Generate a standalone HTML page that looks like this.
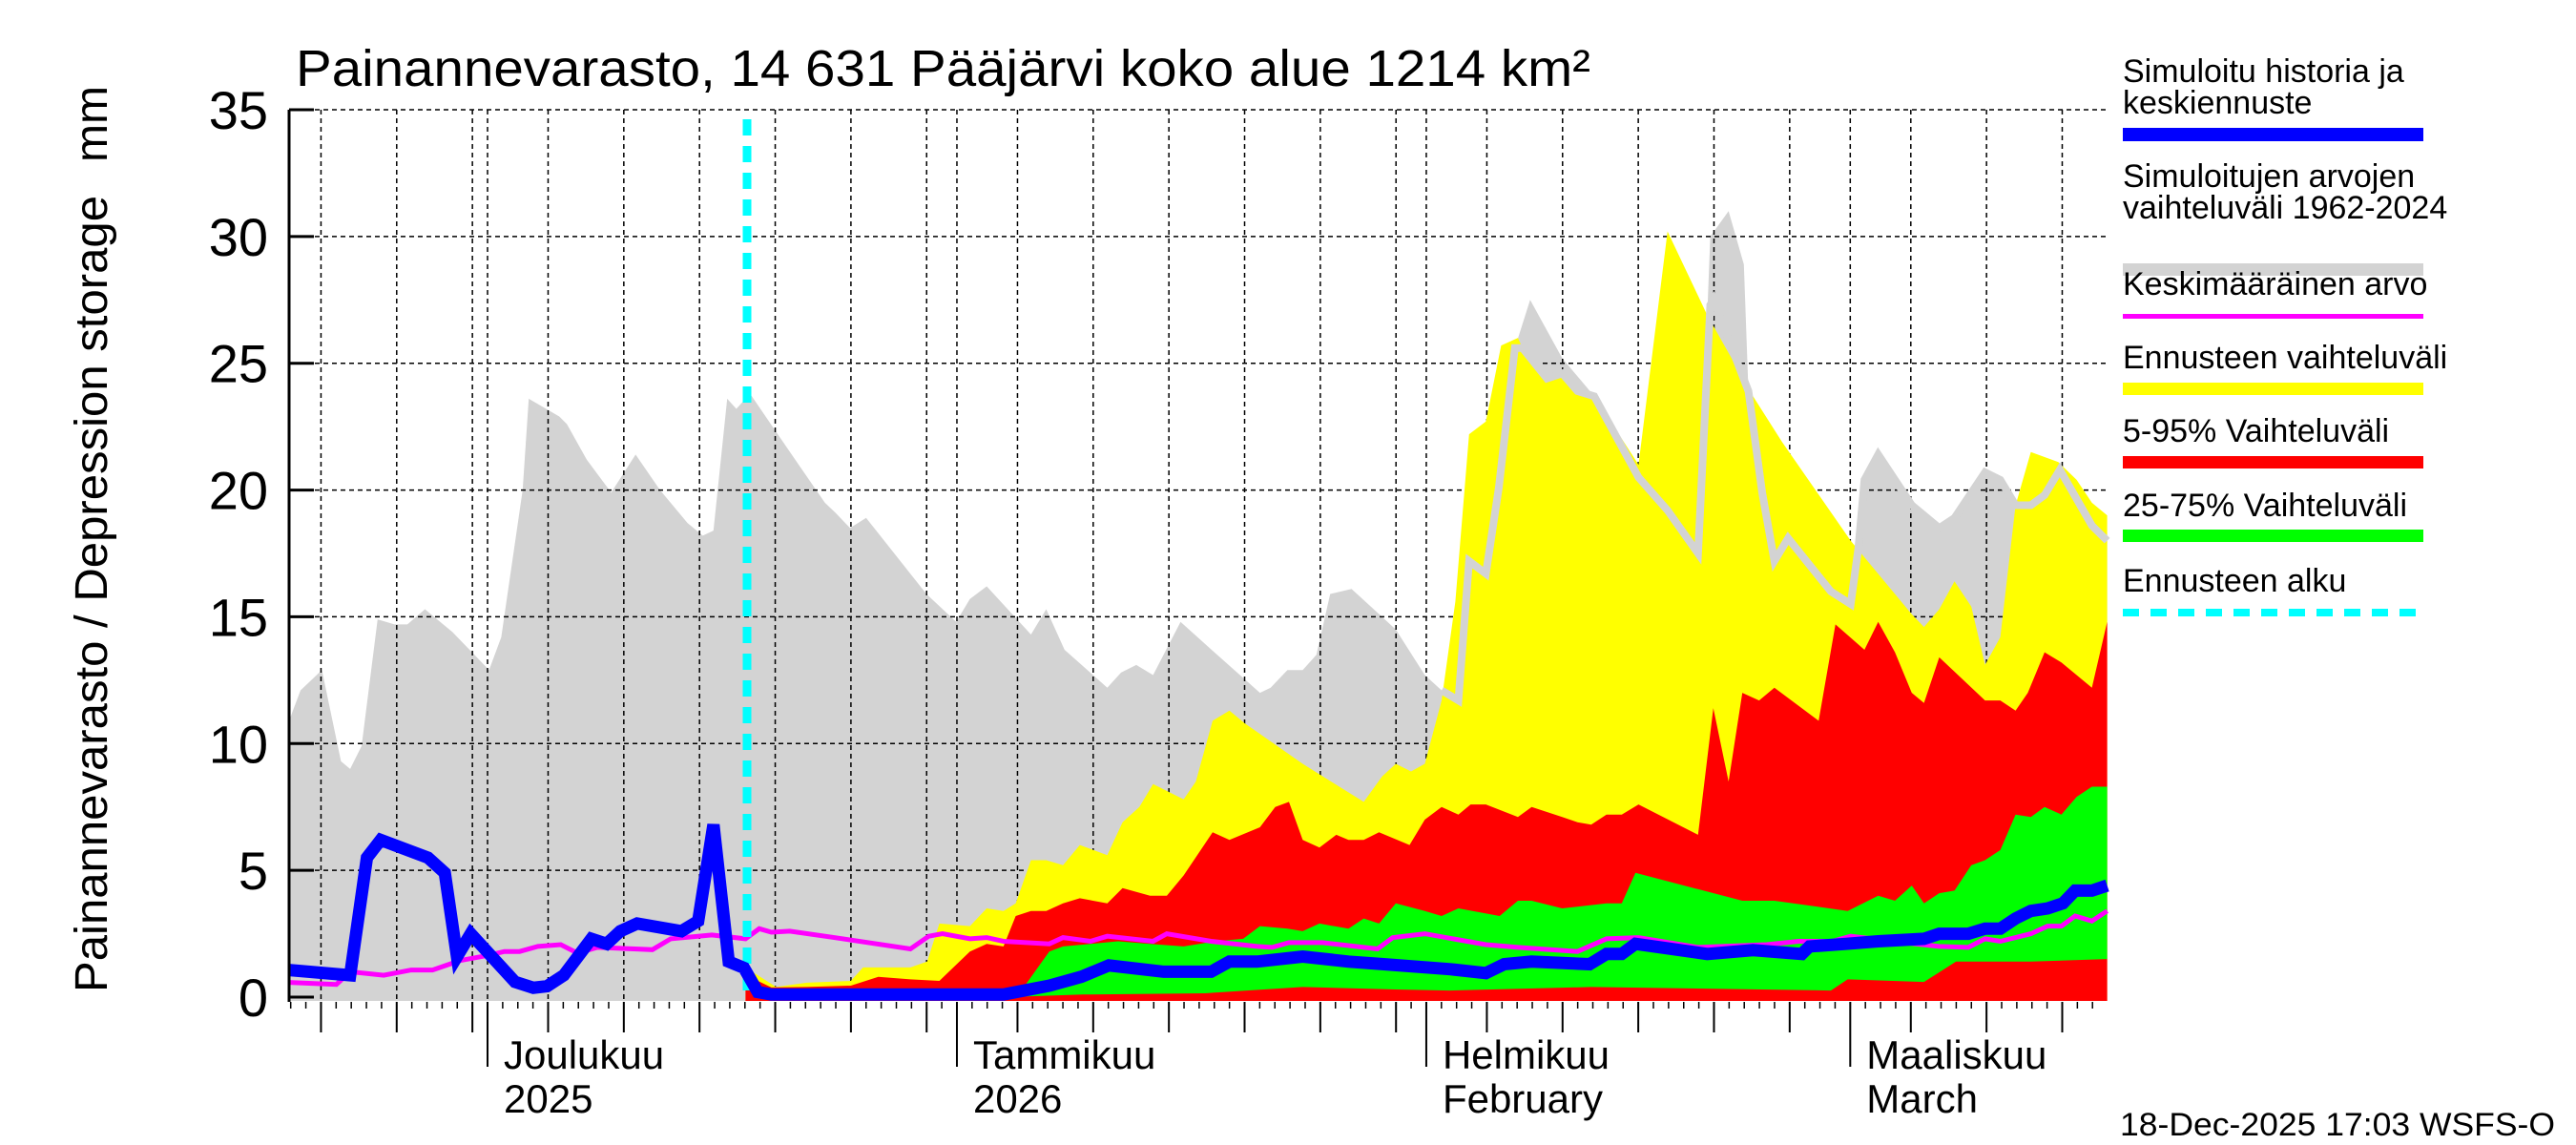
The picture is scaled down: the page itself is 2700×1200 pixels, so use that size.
<!DOCTYPE html>
<html><head><meta charset="utf-8"><style>
html,body{margin:0;padding:0;background:#fff;}
svg{display:block;font-family:"Liberation Sans",Arial,sans-serif;}
</style></head><body>
<svg id="chart" width="2700" height="1200" viewBox="0 0 2700 1200" xmlns="http://www.w3.org/2000/svg">
<rect x="0" y="0" width="2700" height="1200" fill="#fff"/>
<g id="plot"></g>
<text x="310" y="90" font-size="54" textLength="1357" lengthAdjust="spacingAndGlyphs">Painannevarasto, 14 631 Pääjärvi koko alue 1214 km²</text>
<text transform="translate(112,1040) rotate(-90)" font-size="48" textLength="835" lengthAdjust="spacingAndGlyphs">Painannevarasto / Depression storage</text>
<text transform="translate(112,130) rotate(-90)" font-size="48" text-anchor="middle">mm</text>
<g id="legend">
<text x="2225" y="86" font-size="34">Simuloitu historia ja</text>
<text x="2225" y="119" font-size="34">keskiennuste</text>
<rect x="2225" y="134" width="315" height="14" fill="#0000ff"/>
<text x="2225" y="196" font-size="34">Simuloitujen arvojen</text>
<text x="2225" y="229" font-size="34">vaihteluväli 1962-2024</text>
<rect x="2225" y="276" width="315" height="13" fill="#d3d3d3"/>
<text x="2225" y="309" font-size="34">Keskimääräinen arvo</text>
<rect x="2225" y="329" width="315" height="5" fill="#ff00ff"/>
<text x="2225" y="386" font-size="34">Ennusteen vaihteluväli</text>
<rect x="2225" y="401" width="315" height="13" fill="#ffff00"/>
<text x="2225" y="463" font-size="34">5-95% Vaihteluväli</text>
<rect x="2225" y="478" width="315" height="13" fill="#ff0000"/>
<text x="2225" y="541" font-size="34">25-75% Vaihteluväli</text>
<rect x="2225" y="555" width="315" height="13" fill="#00ff00"/>
<text x="2225" y="620" font-size="34">Ennusteen alku</text>
<line x1="2225" y1="642" x2="2540" y2="642" stroke="#00ffff" stroke-width="8" stroke-dasharray="17,12"/>
</g>
<text x="2222" y="1190" font-size="34" textLength="456" lengthAdjust="spacingAndGlyphs">18-Dec-2025 17:03 WSFS-O</text>
</svg>
<script>
// ---- data (day index d: 0 = 18 Nov 2025, 16 px per unit) ----
const yTicks = [0, 5, 10, 15, 20, 25, 30, 35];
const monthLabels = ["Joulukuu", "Tammikuu", "Helmikuu", "Maaliskuu"];
const monthLabels2 = ["2025", "2026", "February", "March"];
const monthStartDays = [13, 44, 75, 103];      // calendar days since 18 Nov
const monthLengths = [30, 31, 31, 28, 31];     // Nov, Dec, Jan, Feb, Mar
const forecastStartDay = 30;

const grayDays = [0,0.75,2.15,3.4,4,4.75,5.8,6.9,7.75,8.9,10.7,12.3,13.1,13.9,15.3,15.7,17.7,18.2,19.5,21.1,22.7,24.3,26.1,27.1,27.8,28.7,29.3,30.2,31.9,33.5,35.1,35.8,36.75,37.8,41.75,43.7,44.6,45.7,48.6,49.6,50.8,53.6,54.5,55.5,56.6,58.4,60.8,63.6,64.3,65.4,66.4,67.3,68.2,69.6,72.5,74.4,75.5,76.6,77.3,78.4,79.25,80.3,81.3,83.4,85.5,88.4,90.3,92.3,93.1,94.3,95.3,95.6,96.5,97.3,98.2,101,102.3,103,104.1,106.3,108.1,109.1,111.1,112.1,113,114.1,115,116,118.1,119.1];
const grayMax = [10.9,12.1,12.9,9.3,9.0,9.9,14.9,14.7,14.7,15.3,14.4,13.4,12.9,14.2,20,23.6,22.9,22.6,21.2,19.9,21.4,20,18.7,18.2,18.4,23.6,23.2,23.8,22.3,20.9,19.5,19.1,18.5,18.9,15.9,14.8,15.7,16.2,14.3,15.3,13.7,12.2,12.8,13.1,12.7,14.8,13.5,12.0,12.2,12.9,12.9,13.5,15.9,16.1,14.5,12.7,12.1,11.7,17.2,16.7,20.1,25.6,27.5,25.2,23.7,20.5,19.2,17.5,30,31,28.9,23.9,19.9,17.2,18.1,16,15.5,20.4,21.4,19.4,18.5,18.9,20.7,20.4,19.5,19.4,19.8,20.8,18.6,18];

const grayLineDays = [75.5,76.6,77.3,78.4,79.25,80.3,80.8,82.4,83.4,84.4,85.5,88.4,90.3,92.3,93.1,93.3,95.6,96.5,97.3,98.2,101,102.3,102.8,103.2,104.1,106.3,108.1,109.1,111.1,112.1,113.1,114.1,115,116,118.1,119.1];
const grayLineVals = [12.1,11.7,17.2,16.7,20.1,25.6,25.6,24.4,24.6,23.9,23.7,20.5,19.2,17.5,27.3,27.5,23.9,19.9,17.2,18.1,16,15.5,17.7,20.4,21.4,19.4,18.5,18.9,20.7,20.4,19.4,19.4,19.8,20.8,18.6,18];

const yellowDays = [29.9,30.5,31.9,33.9,36.8,37.6,40.7,41.8,42.6,44.6,45.7,46.8,47.6,48.6,49.6,50.7,51.8,53.6,54.6,55.7,56.6,58.6,59.4,60.5,61.6,62.6,66.4,70.4,71.6,72.5,73.5,74.4,75.5,76.4,77.3,78.4,79.4,80.5,80.8,82.4,83.4,84.4,85.5,88.4,90.3,92.9,95.9,97.8,102.3,106.3,107.1,108.1,109.1,110.2,111.1,112.1,113.1,114.1,115.9,117.1,118.1,119.1];
const yellowMax = [1.3,0.94,0.4,0.57,0.64,1.17,1.17,1.4,2.9,2.8,3.5,3.4,3.7,5.4,5.4,5.2,6.0,5.6,6.9,7.5,8.4,7.8,8.5,10.9,11.3,10.8,9.2,7.7,8.7,9.2,8.9,9.2,11.7,15.6,22.2,22.7,25.7,26,25.6,24.4,24.6,23.9,23.7,21,30.2,26.9,23.7,21.9,18,15.1,14.6,15.3,16.4,15.4,13.1,14.2,19.4,21.5,21.1,20.4,19.5,19];

const redDays = [29.9,30.5,31.6,33.9,36.8,38.6,40.7,42.6,44.6,45.7,46.8,47.6,48.6,49.6,50.7,51.8,53.6,54.6,56.4,57.5,58.6,60.5,61.6,63.6,64.6,65.5,66.4,67.5,68.6,69.4,70.4,71.4,73.4,74.4,75.5,76.6,77.4,78.4,80.5,81.4,83.4,84.4,85.3,86.3,87.3,88.4,92.3,93.3,94.3,95.2,96.3,97.3,100.2,101.3,103.2,104.1,105.2,106.3,107.1,108.1,111.1,112.1,113.1,113.9,115,116.1,117.1,118.1,119.1];
const red95 = [1.25,0.7,0.38,0.4,0.45,0.8,0.7,0.64,1.8,2.1,2.0,3.2,3.4,3.4,3.7,3.9,3.7,4.3,4.0,4.0,4.8,6.5,6.2,6.7,7.5,7.7,6.2,5.9,6.4,6.2,6.2,6.5,6.0,7.0,7.5,7.2,7.6,7.6,7.1,7.5,7.1,6.9,6.8,7.2,7.2,7.6,6.4,11.4,8.5,12.0,11.7,12.2,10.9,14.7,13.7,14.8,13.6,12.0,11.6,13.4,11.7,11.7,11.3,12.0,13.6,13.2,12.7,12.2,14.8];

const greenTopDays = [29.9,30.6,46,47.9,49.8,50.7,52.5,54.3,56.4,58.6,60.7,62.5,63.6,65.4,66.4,67.5,69.4,70.4,71.4,72.5,74.4,75.5,76.6,79.3,80.5,81.4,83.4,86.3,87.3,88.2,95.2,97.3,102.1,104.1,105.2,106.3,107.1,108.1,109.1,110.2,111.1,112.1,113.1,114.1,115,116.1,117.1,118.1,119.1];
const green75 = [1.2,0.1,0.05,0.2,1.8,2.0,2.1,2.2,2.1,2.0,2.2,2.3,2.8,2.7,2.6,2.9,2.7,3.1,2.9,3.7,3.4,3.2,3.5,3.2,3.8,3.8,3.5,3.7,3.7,4.9,3.8,3.8,3.4,4.0,3.8,4.4,3.7,4.1,4.2,5.2,5.4,5.8,7.2,7.1,7.5,7.2,7.9,8.3,8.3];
const greenBotDays = [29.9,30.6,47,52,60,66.4,72.5,76,85.3,101,102.1,107.1,109.2,114.1,119.1];
const green25 = [1.1,0.05,0,0.1,0.15,0.4,0.3,0.26,0.4,0.26,0.7,0.6,1.4,1.4,1.5];

const blueDays = [0,4,5.1,6,9.1,10.2,11,11.9,14.8,16,16.9,18,19.8,20.8,21.7,22.8,25.7,26.8,27.8,28.8,29.8,30.7,31.6,46.8,49.8,51.9,53.7,57.3,60.4,61.6,63.4,66.4,69.4,71.7,76.1,78.4,79.6,81.4,85.2,86.3,87.3,88.2,92.9,95.9,99.1,99.6,102,104.1,107.1,108.1,110,111.1,112.1,113.1,114.1,115.2,116.2,117,118.1,119.1];
const blueVals = [1.07,0.86,5.5,6.2,5.5,4.9,1.6,2.5,0.6,0.37,0.43,0.86,2.3,2.1,2.6,2.9,2.6,3.0,6.8,1.4,1.15,0.2,0.1,0.1,0.45,0.8,1.25,1.0,1.0,1.4,1.4,1.6,1.4,1.3,1.1,0.95,1.3,1.4,1.3,1.7,1.7,2.1,1.7,1.85,1.7,2.0,2.1,2.2,2.3,2.5,2.5,2.7,2.7,3.1,3.4,3.5,3.7,4.2,4.2,4.4];

const meanDays = [0,3.1,4,6.2,8,9.4,11.2,13,14.1,15.1,16.3,17.8,18.9,20.2,23.8,25,27.7,29.9,30.8,31.6,32.8,35.6,40.7,41.9,42.8,44.6,45.7,46.8,49.8,50.7,52.5,53.6,56.6,57.5,60.4,63.4,64.4,65.5,67.7,71.3,72.3,74.4,78.4,80.5,84.4,86.3,88.4,92.3,96.8,98.9,101.1,102.3,105,108.1,110,111.1,112.1,114.1,115.2,116.1,117,118.1,119.1];
const meanVals = [0.58,0.5,1.0,0.86,1.07,1.07,1.44,1.64,1.8,1.8,2.0,2.07,1.73,1.96,1.87,2.3,2.45,2.3,2.7,2.56,2.6,2.36,1.9,2.4,2.5,2.3,2.35,2.2,2.1,2.35,2.2,2.4,2.2,2.5,2.2,2.0,1.96,2.15,2.15,1.9,2.35,2.5,2.07,1.96,1.8,2.3,2.35,1.96,2.07,2.2,2.2,2.4,2.2,2.0,1.96,2.3,2.2,2.5,2.8,2.8,3.2,3.0,3.4];

// ---- scales ----
const X0 = 303, X1 = 2209, Y0 = 1045, YTOP = 115;
function xs(d) { return X0 + d * 16; }
function xCal(t) { return 304.7 + t * 15.87; }   // calendar-day axis
function ys(v) { return Y0 - v * (Y0 - YTOP) / 35; }

const NS = "http://www.w3.org/2000/svg";
const plot = document.getElementById("plot");
function mk(tag, attrs) {
  const e = document.createElementNS(NS, tag);
  for (const k in attrs) e.setAttribute(k, attrs[k]);
  plot.appendChild(e);
  return e;
}
function pts(days, vals) { return days.map((d, i) => xs(d).toFixed(1) + "," + ys(vals[i]).toFixed(1)); }
function areaPts(days, vals) {
  const p = pts(days, vals);
  p.push(xs(days[days.length - 1]).toFixed(1) + "," + (Y0 + 4));
  p.unshift(xs(days[0]).toFixed(1) + "," + (Y0 + 4));
  return p.join(" ");
}

// gray historic range
let e = mk("polygon", { points: areaPts(grayDays, grayMax), fill: "#d3d3d3" });



// grid
yTicks.forEach(v => {
  if (v === 0) return;
  const l = mk("line", { x1: X0, x2: X1, y1: ys(v), y2: ys(v), stroke: "#000", "stroke-width": 1.5, "stroke-dasharray": "5,4" });
  
  
});
const gridDays = [];
let start = -17; // 1 Nov relative to 18 Nov
for (let m = 0; m < monthLengths.length; m++) {
  for (let dom = 1; dom <= monthLengths[m]; dom++) {
    const t = start + dom - 1;
    if (t >= 0 && t <= 120 && (dom % 5 === 0 || dom === 1)) gridDays.push({ t: t, first: dom === 1 });
  }
  start += monthLengths[m];
}
gridDays.forEach(g => {
  const x = xCal(g.t);
  if (x > X1) return;
  const l = mk("line", { x1: x, x2: x, y1: YTOP, y2: Y0 + 4, stroke: "#000", "stroke-width": 1.5, "stroke-dasharray": "5,4" });
  
  
  const tk = mk("line", { x1: x, x2: x, y1: Y0 + 5, y2: g.first ? 1118 : 1082, stroke: "#000", "stroke-width": 2 });
  
  
});
for (let t = 0; t <= 120; t++) {
  const x = xCal(t);
  if (x > X1) break;
  const tk = mk("line", { x1: x, x2: x, y1: Y0 + 5, y2: 1057, stroke: "#000", "stroke-width": 1.5 });
  
  
}

// forecast bands
e = mk("polygon", { points: areaPts(yellowDays, yellowMax), fill: "#ffff00" });


e = mk("polyline", { points: pts(grayLineDays, grayLineVals).join(" "), fill: "none", stroke: "#d3d3d3", "stroke-width": 8, "stroke-linejoin": "miter" });


e = mk("polygon", { points: areaPts(redDays, red95), fill: "#ff0000" });


const gp = pts(greenTopDays, green75).concat(pts(greenBotDays, green25).reverse());
e = mk("polygon", { points: gp.join(" "), fill: "#00ff00" });



// mean line
e = mk("polyline", { points: pts(meanDays, meanVals).join(" "), fill: "none", stroke: "#ff00ff", "stroke-width": 5 });



// forecast start
e = mk("line", { x1: xs(forecastStartDay), x2: xs(forecastStartDay), y1: YTOP + 10, y2: Y0, stroke: "#00ffff", "stroke-width": 9, "stroke-dasharray": "17,11" });



// blue simulated line
e = mk("polyline", { points: pts(blueDays, blueVals).join(" "), fill: "none", stroke: "#0000ff", "stroke-width": 13, "stroke-linejoin": "miter", "stroke-miterlimit": 3 });



// y axis
e = mk("line", { x1: X0, x2: X0, y1: YTOP, y2: Y0 + 5, stroke: "#000", "stroke-width": 3 });


yTicks.forEach(v => {
  const l = mk("line", { x1: X0, x2: X0 + 26, y1: ys(v), y2: ys(v), stroke: "#000", "stroke-width": 3 });
  
  
  const t = mk("text", { x: 281, y: ys(v) + 20, "font-size": 56, "text-anchor": "end" });
  t.textContent = String(v);
  
  
});

// month labels
monthStartDays.forEach((t, i) => {
  const x = xCal(t) + 17;
  const a = mk("text", { x: x, y: 1120, "font-size": 42 });
  a.textContent = monthLabels[i];
  
  
  const b = mk("text", { x: x, y: 1166, "font-size": 42 });
  b.textContent = monthLabels2[i];
  
  
});
</script>
</body></html>
